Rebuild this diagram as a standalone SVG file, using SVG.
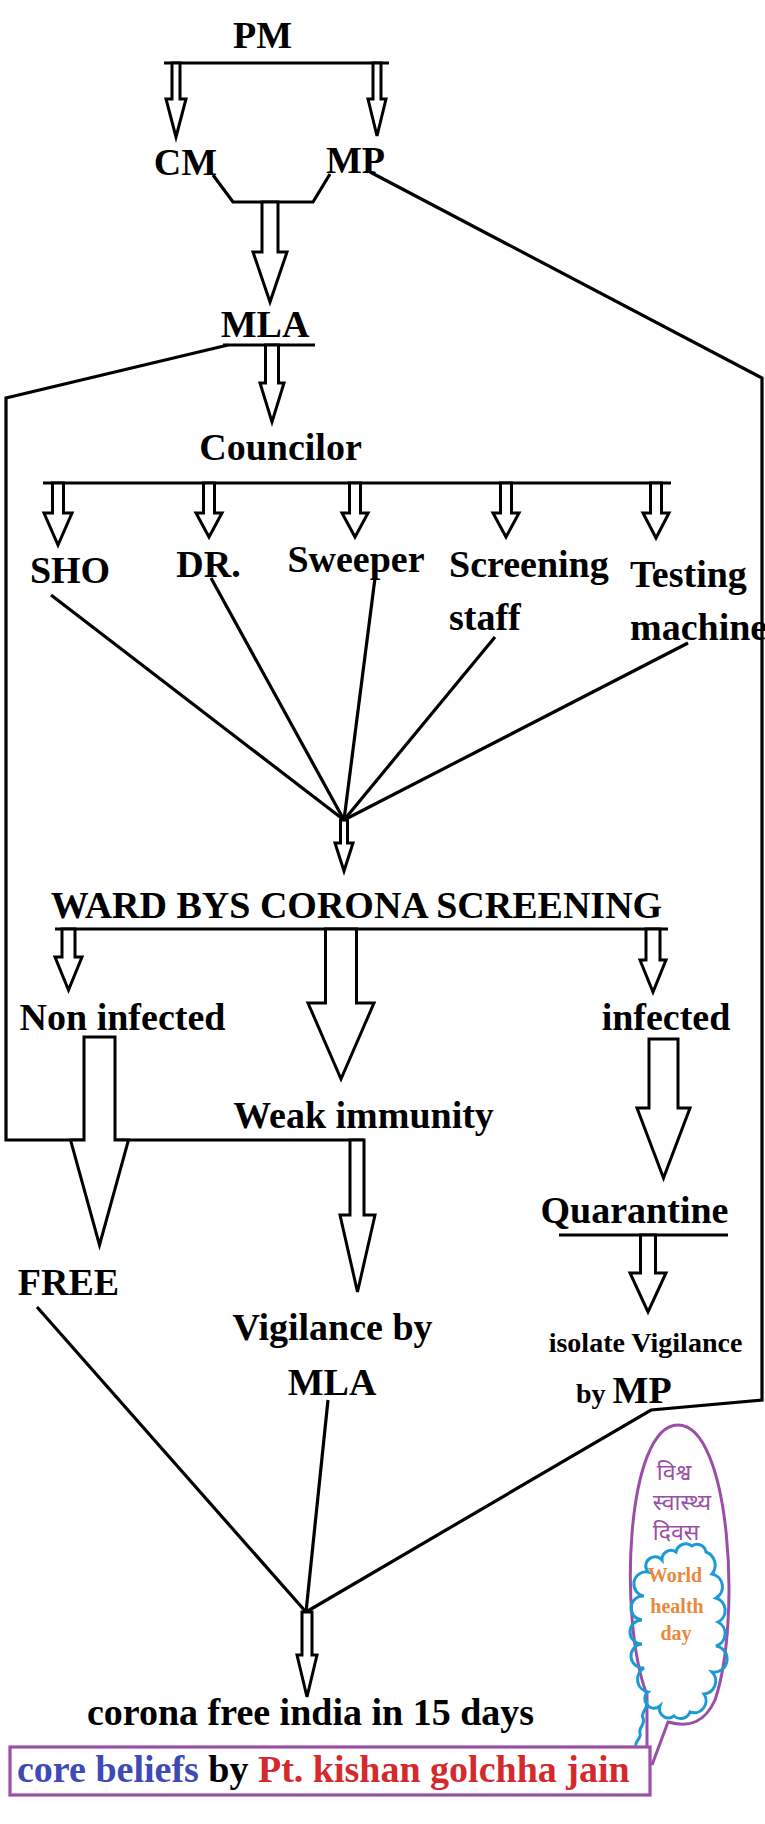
<svg xmlns="http://www.w3.org/2000/svg" width="765" height="1824" viewBox="0 0 765 1824">
<style>
.t{font-family:"Liberation Serif","Times New Roman",serif;font-weight:bold;font-size:38px;fill:#000}
.m{text-anchor:middle}
.ln{fill:none;stroke:#000;stroke-width:3.2;stroke-linejoin:miter}
.ar{fill:#fff;stroke:#000;stroke-width:3;stroke-linejoin:miter}
.hi{font-family:"Noto Sans Devanagari","Noto Serif Devanagari","Lohit Devanagari","FreeSerif","Noto Sans",sans-serif;font-size:23px;fill:#9a4ea6;text-anchor:middle}
.en{font-family:"Liberation Serif",serif;font-weight:bold;font-size:20px;fill:#e8893b;text-anchor:middle}
</style>
<rect width="765" height="1824" fill="#fff"/>
<g id="connectors">
<line class="ln" x1="164" y1="63" x2="389" y2="63"/>
<polyline class="ln" points="213,175 233,202 313,202 330,174"/>
<polyline class="ln" points="370,172 762,378 762,1400 651,1410 306,1612"/>
<line class="ln" x1="223" y1="345" x2="315" y2="345"/>
<polyline class="ln" points="228,345 6,398 6,1140 364,1140"/>
<line class="ln" x1="43" y1="483" x2="671" y2="483"/>
<line class="ln" x1="51" y1="595" x2="344" y2="820"/>
<line class="ln" x1="211" y1="578" x2="344" y2="820"/>
<line class="ln" x1="375" y1="578" x2="344" y2="820"/>
<line class="ln" x1="495" y1="637" x2="344" y2="820"/>
<line class="ln" x1="688" y1="643" x2="344" y2="820"/>
<line class="ln" x1="55" y1="929" x2="668" y2="929"/>
<line class="ln" x1="559" y1="1235" x2="728" y2="1235"/>
<line class="ln" x1="37" y1="1307" x2="306" y2="1612"/>
<line class="ln" x1="328" y1="1400" x2="306" y2="1612"/>
<polygon class="ar" points="172,63 180,63 180,99 186,99 176,137 166,99 172,99"/>
<polygon class="ar" points="373,63 381,63 381,99 386,99 377,136 368,99 373,99"/>
<polygon class="ar" points="262,202 278,202 278,252 287,252 270,302 253,252 262,252"/>
<polygon class="ar" points="265.5,345 278.5,345 278.5,383 284,383 272,422 260,383 265.5,383"/>
<polygon class="ar" points="52.5,483 63.5,483 63.5,513 72,513 58,545 44,513 52.5,513"/>
<polygon class="ar" points="203.5,483 214.5,483 214.5,513 222,513 209,537 196,513 203.5,513"/>
<polygon class="ar" points="349.5,483 360.5,483 360.5,513 368,513 355,537 342,513 349.5,513"/>
<polygon class="ar" points="500.5,483 511.5,483 511.5,513 519,513 506,537 493,513 500.5,513"/>
<polygon class="ar" points="650.5,483 661.5,483 661.5,513 669,513 656,538 643,513 650.5,513"/>
<polygon class="ar" points="340.5,820 347.5,820 347.5,843 353,843 344,871 335,843 340.5,843"/>
<polygon class="ar" points="62,929 75,929 75,957 82,957 68.5,990 55,957 62,957"/>
<polygon class="ar" points="325.5,929 356.5,929 356.5,1003 374,1003 341,1079 308,1003 325.5,1003"/>
<polygon class="ar" points="646,929 660,929 660,960 666,960 653,992 640,960 646,960"/>
<polygon class="ar" points="84,1037 115,1037 115,1140 128.5,1140 99.5,1245 70.5,1140 84,1140"/>
<polygon class="ar" points="649,1039 678,1039 678,1108 690,1108 663.5,1178 637,1108 649,1108"/>
<polygon class="ar" points="350,1140 364,1140 364,1215 375,1215 357.5,1292 340,1215 350,1215"/>
<polygon class="ar" points="640.5,1235 655.5,1235 655.5,1273 666,1273 648,1312 630,1273 640.5,1273"/>
<polygon class="ar" points="302,1612 312,1612 312,1655 317,1655 307,1697 297,1655 302,1655"/>
</g>
<g id="pm"><text class="t m" x="262.5" y="48">PM</text></g>
<g id="cm"><text class="t m" x="185.5" y="175">CM</text></g>
<g id="mp"><text class="t m" x="355.5" y="173">MP</text></g>
<g id="mla"><text class="t m" x="265" y="337">MLA</text></g>
<g id="councilor"><text class="t m" x="280.5" y="460">Councilor</text></g>
<g id="sho"><text class="t m" x="70" y="583">SHO</text></g>
<g id="dr"><text class="t m" x="208.5" y="577">DR.</text></g>
<g id="sweeper"><text class="t m" x="356" y="572">Sweeper</text></g>
<g id="screening"><text class="t" x="449" y="577">Screening</text><text class="t" x="449" y="630">staff</text></g>
<g id="testing"><text class="t" x="630" y="587">Testing</text><text class="t" x="630" y="640">machine</text></g>
<g id="ward"><text class="t m" x="356.5" y="918">WARD BYS CORONA SCREENING</text></g>
<g id="noninfected"><text class="t m" x="122.5" y="1030">Non infected</text></g>
<g id="infected"><text class="t m" x="666" y="1030">infected</text></g>
<g id="weak"><text class="t m" x="363.5" y="1128">Weak immunity</text></g>
<g id="quarantine"><text class="t m" x="634.5" y="1223">Quarantine</text></g>
<g id="free"><text class="t m" x="68.5" y="1295">FREE</text></g>
<g id="vigilance"><text class="t m" x="332.5" y="1340">Vigilance by</text><text class="t m" x="332" y="1395">MLA</text></g>
<g id="isolate"><text class="t m" x="645.5" y="1352" style="font-size:28px">isolate Vigilance</text><text class="t" x="576" y="1403"><tspan style="font-size:28px">by </tspan>MP</text></g>
<g id="coronafree"><text class="t m" x="310.5" y="1725">corona free india in 15 days</text></g>
<g id="credit">
<rect x="10" y="1747" width="640" height="48" fill="#fff" stroke="#9a4ea6" stroke-width="3.2"/>
<text class="t" x="17" y="1782"><tspan fill="#3d4ab8">core beliefs</tspan> by <tspan fill="#d42a2e">Pt. kishan golchha jain</tspan></text>
</g>
<g id="bubble">
<path d="M647 1747 L647 1695 C618 1620 626 1425 678 1425 C730 1425 742 1620 715 1700 C705 1722 690 1728 668 1722 L652 1765" fill="none" stroke="#9a4ea6" stroke-width="3"/>
<path d="M648 1572 A9 9 0 0 1 662 1560 A9 9 0 0 1 676 1552 A10 10 0 0 1 692 1546 A9 9 0 0 1 706 1552 A14 14 0 0 1 712 1574 A13 13 0 0 1 716 1598 A13 13 0 0 1 718 1622 A13 13 0 0 1 716 1646 A13 13 0 0 1 712 1672 A13 13 0 0 1 704 1694 A12 12 0 0 1 690 1712 A10 10 0 0 1 674 1716 A9 9 0 0 1 660 1706 A9 9 0 0 1 648 1692 A13 13 0 0 1 644 1668 A12 12 0 0 1 642 1644 A12 12 0 0 1 642 1620 A12 12 0 0 1 644 1596 A12 12 0 0 1 648 1572 Z" fill="none" stroke="#1b9ad6" stroke-width="3"/>
<path d="M646 1700 C650 1708 640 1712 643 1718 C646 1724 638 1728 640 1733 C642 1738 634 1742 636 1746" fill="none" stroke="#1b9ad6" stroke-width="3"/>
<text class="hi" x="674" y="1480">विश्व</text>
<text class="hi" x="682" y="1510">स्वास्थ्य</text>
<text class="hi" x="676" y="1540">दिवस</text>
<text class="en" x="675" y="1582">World</text>
<text class="en" x="677" y="1613">health</text>
<text class="en" x="676" y="1640">day</text>
</g>
</svg>
